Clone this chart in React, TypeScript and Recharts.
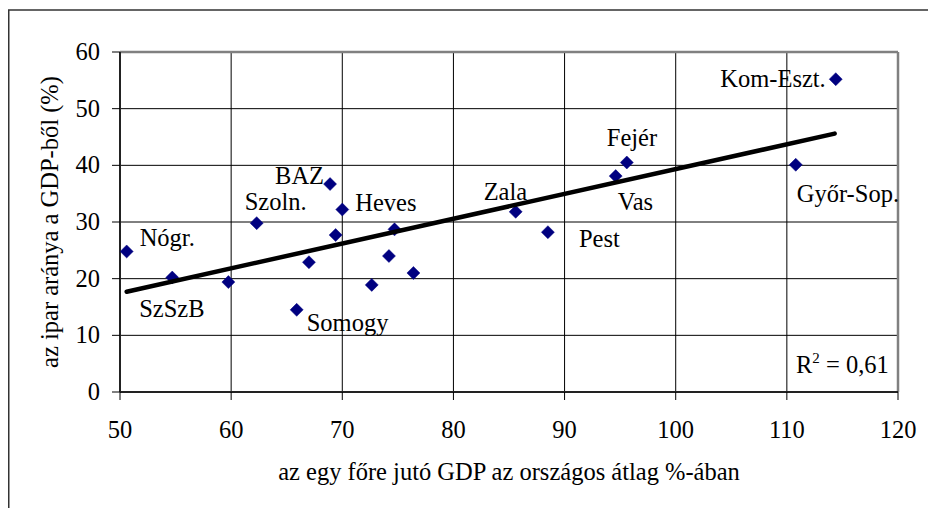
import React from "react";
import {
  ScatterChart,
  Scatter,
  XAxis,
  YAxis,
  CartesianGrid,
  ReferenceLine,
} from "recharts";

// ---- data ----
const regions = [
  "Nógr.", "SzSzB", "", "Szoln.", "Somogy", "", "BAZ", "", "Heves", "", "", "", "",
  "Zala", "Pest", "Vas", "Fejér", "Győr-Sop.", "Kom-Eszt.",
];
const gdpShare = [
  50.6, 54.7, 59.75, 62.3, 65.9, 67.0, 68.9, 69.4, 70.0, 72.65, 74.2, 74.7, 76.4,
  85.6, 88.5, 94.6, 95.6, 110.8, 114.4,
];
const industryShare = [
  24.8, 20.2, 19.4, 29.8, 14.5, 22.9, 36.7, 27.7, 32.2, 18.9, 24.0, 28.7, 21.0,
  31.8, 28.2, 38.1, 40.5, 40.1, 55.2,
];
const trendX = [50.6, 114.3];
const trendY = [17.7, 45.6];
const xTicks = [50, 60, 70, 80, 90, 100, 110, 120];
const yTicks = [0, 10, 20, 30, 40, 50, 60];
const xTitle = "az egy főre jutó GDP az országos átlag %-ában";
const yTitle = "az ipar aránya a GDP-ből (%)";
const r2Value = "0,61";

// ---- label placement (style, not data) ----
const labelPos: Record<string, { dx: number; dy: number; anchor: "start" | "end" }> = {
  "Nógr.": { dx: 13, dy: -5, anchor: "start" },
  SzSzB: { dx: -33, dy: 39, anchor: "start" },
  "Szoln.": { dx: -12, dy: -13, anchor: "start" },
  BAZ: { dx: -6, dy: 0, anchor: "end" },
  Heves: { dx: 13, dy: 1, anchor: "start" },
  Somogy: { dx: 10, dy: 21, anchor: "start" },
  Zala: { dx: -32, dy: -12, anchor: "start" },
  Pest: { dx: 31, dy: 15, anchor: "start" },
  Vas: { dx: 2, dy: 34, anchor: "start" },
  "Fejér": { dx: -20, dy: -17, anchor: "start" },
  "Győr-Sop.": { dx: 1, dy: 37, anchor: "start" },
  "Kom-Eszt.": { dx: -10, dy: 8, anchor: "end" },
};

const points = regions.map((name, i) => ({ name, x: gdpShare[i], y: industryShare[i] }));
const trend = trendX.map((x, i) => ({ x, y: trendY[i] }));

const FONT = "Liberation Serif";
const FS = 24.5;
const NAVY = "#000080";
const textStyle = { fontFamily: FONT, fontSize: FS, fill: "#000" } as const;

const DiamondShape = (props: any) => {
  const { cx, cy, payload } = props;
  if (cx == null || cy == null) return <g />;
  const h = 6.5;
  const pos = payload && payload.name ? labelPos[payload.name] : undefined;
  return (
    <g>
      <polygon
        points={`${cx},${cy - h} ${cx + h},${cy} ${cx},${cy + h} ${cx - h},${cy}`}
        fill={NAVY}
        stroke={NAVY}
        strokeWidth={0.5}
      />
      {pos && (
        <text x={cx + pos.dx} y={cy + pos.dy} textAnchor={pos.anchor} style={textStyle}>
          {payload.name}
        </text>
      )}
    </g>
  );
};

const NoShape = () => <g />;

const XTick = (props: any) => {
  const { x, y, payload } = props;
  return (
    <text x={x} y={y + 36} textAnchor="middle" style={textStyle}>
      {payload.value}
    </text>
  );
};

const YTick = (props: any) => {
  const { x, y, payload } = props;
  return (
    <text x={x - 10} y={y + 8} textAnchor="end" style={textStyle}>
      {payload.value}
    </text>
  );
};

const XTitle = (props: any) => {
  const vb = props.viewBox || { x: 0, y: 0, width: 0 };
  const cx = vb.x + vb.width / 2;
  return (
    <g>
      <text x={cx} y={480} textAnchor="middle" style={textStyle}>
        {xTitle}
      </text>
      <text x={vb.x + vb.width - 102} y={vb.y - 19} style={textStyle}>
        R
        <tspan style={{ fontSize: 15 }} dy={-10}>2</tspan>
        <tspan dy={10}>{` = ${r2Value}`}</tspan>
      </text>
    </g>
  );
};

const YTitle = (props: any) => {
  const vb = props.viewBox || { x: 0, y: 0, width: 0, height: 0 };
  const cx = 49;
  const cy = vb.y + vb.height / 2;
  return (
    <text
      x={cx}
      y={cy}
      textAnchor="middle"
      dominantBaseline="central"
      transform={`rotate(-90, ${cx}, ${cy})`}
      style={textStyle}
    >
      {yTitle}
    </text>
  );
};

export default function App() {
  return (
    <div
      style={{
        position: "fixed",
        left: 0,
        top: 0,
        width: 928,
        height: 508,
        overflow: "hidden",
        background: "#fff",
      }}
    >
      <svg width={928} height={508} style={{ position: "absolute", left: 0, top: 0 }}>
        <path d="M8.75,508 L8.75,10 L928,10" fill="none" stroke="#333" strokeWidth={1.5} />
      </svg>
      <div style={{ position: "absolute", left: 0, top: 0 }}>
        <ScatterChart
          width={928}
          height={508}
          margin={{ top: 52, right: 30, left: 0, bottom: 0 }}
        >
          <CartesianGrid stroke="#000" strokeWidth={1} />
          <XAxis
            type="number"
            dataKey="x"
            domain={[50, 120]}
            ticks={xTicks}
            interval={0}
            height={116}
            tickSize={8}
            tick={<XTick />}
            axisLine={{ stroke: "#222", strokeWidth: 2 }}
            tickLine={{ stroke: "#000" }}
            label={<XTitle />}
          />
          <YAxis
            type="number"
            dataKey="y"
            domain={[0, 60]}
            ticks={yTicks}
            interval={0}
            width={120}
            tickSize={8}
            tick={<YTick />}
            axisLine={{ stroke: "#222", strokeWidth: 2 }}
            tickLine={{ stroke: "#000" }}
            label={<YTitle />}
          />
          <ReferenceLine y={60} stroke="#808080" strokeWidth={2.5} />
          <ReferenceLine x={120} stroke="#808080" strokeWidth={2.5} />
          <Scatter data={points} shape={<DiamondShape />} isAnimationActive={false} />
          <Scatter
            data={trend}
            shape={<NoShape />}
            line={{ stroke: "#000", strokeWidth: 4.5, strokeLinecap: "round" }}
            lineType="joint"
            isAnimationActive={false}
          />
        </ScatterChart>
      </div>
    </div>
  );
}
